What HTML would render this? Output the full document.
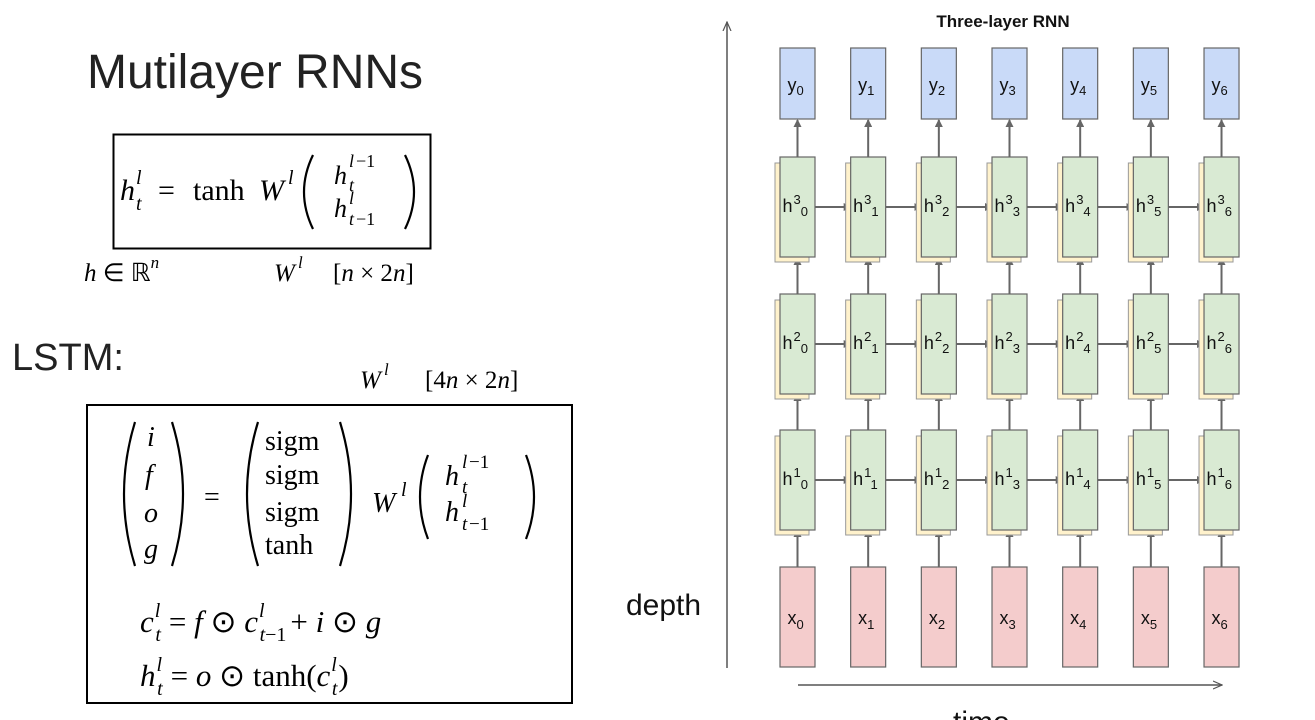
<!DOCTYPE html>
<html><head><meta charset="utf-8"><style>
html,body{margin:0;padding:0;background:#fff;}
svg{display:block;}
.m{font-family:"Liberation Serif",serif;}
.i{font-style:italic;}
.s{font-family:"Liberation Sans",sans-serif;}
</style></head><body>
<svg width="1315" height="720" viewBox="0 0 1315 720" xmlns="http://www.w3.org/2000/svg">
<defs>
<marker id="a" markerWidth="8" markerHeight="8" refX="7" refY="4" orient="auto" markerUnits="userSpaceOnUse">
<path d="M0,0 L8,4 L0,8 z" fill="#666"/></marker>
<marker id="b" markerWidth="10" markerHeight="10" refX="9" refY="5" orient="auto" markerUnits="userSpaceOnUse">
<path d="M0,1 L9,5 L0,9" fill="none" stroke="#555" stroke-width="1.2"/></marker>
</defs>

<text x="87" y="88" class="s" font-size="48" fill="#222">Mutilayer RNNs</text>
<rect x="113.5" y="134.5" width="317" height="114" fill="none" stroke="#000" stroke-width="2"/>
<g class="m" font-size="30" fill="#000">
<text x="120" y="200" class="i">h</text>
<text x="136" y="184" class="i" font-size="20">l</text>
<text x="136" y="210" class="i" font-size="20">t</text>
<text x="158" y="200">=</text>
<text x="193" y="200">tanh</text>
<text x="259" y="200" class="i">W</text>
<text x="288" y="184" class="i" font-size="20">l</text>
<text x="334" y="184" class="i" font-size="26">h</text>
<text x="349" y="167" class="i" font-size="18">l</text><text x="356" y="167" font-size="18">−1</text>
<text x="349" y="191" class="i" font-size="18">t</text>
<text x="334" y="217" class="i" font-size="26">h</text>
<text x="349" y="204" class="i" font-size="18">l</text>
<text x="349" y="225" class="i" font-size="18">t</text><text x="356" y="225" font-size="18">−1</text>
</g>
<path d="M313,155 Q295,192 313,229" fill="none" stroke="#000" stroke-width="2.2"/>
<path d="M405,155 Q423,192 405,229" fill="none" stroke="#000" stroke-width="2.2"/>
<g class="m" font-size="25" fill="#000">
<text x="84" y="281"><tspan class="i">h</tspan> ∈ ℝ<tspan class="i" font-size="17" dy="-13">n</tspan></text>
<text x="274" y="281" class="i">W</text><text x="298" y="268" class="i" font-size="17">l</text>
<text x="333" y="281">[<tspan class="i">n</tspan> × 2<tspan class="i">n</tspan>]</text>
<text x="360" y="388" class="i">W</text><text x="384" y="375" class="i" font-size="17">l</text>
<text x="425" y="388">[4<tspan class="i">n</tspan> × 2<tspan class="i">n</tspan>]</text>
</g>
<text x="12" y="370" class="s" font-size="38" fill="#222">LSTM:</text>
<rect x="87" y="405" width="485" height="298" fill="none" stroke="#000" stroke-width="2"/>
<g class="m" font-size="28" fill="#000">
<text x="147" y="446" class="i">i</text>
<text x="145" y="484" class="i">f</text>
<text x="144" y="522" class="i">o</text>
<text x="144" y="558" class="i">g</text>
<text x="204" y="506">=</text>
<text x="265" y="450">sigm</text>
<text x="265" y="484">sigm</text>
<text x="265" y="521">sigm</text>
<text x="265" y="554">tanh</text>
<text x="372" y="512" class="i">W</text><text x="401" y="496" class="i" font-size="20">l</text>
<text x="445" y="485" class="i">h</text>
<text x="462" y="468" class="i" font-size="19">l</text><text x="469" y="468" font-size="19">−1</text>
<text x="462" y="493" class="i" font-size="19">t</text>
<text x="445" y="521" class="i">h</text>
<text x="462" y="507" class="i" font-size="19">l</text>
<text x="462" y="530" class="i" font-size="19">t</text><text x="469" y="530" font-size="19">−1</text>
</g>
<g class="m" font-size="31" fill="#000">
<text x="140" y="632"><tspan class="i">c</tspan><tspan class="i" font-size="20" dy="-15" dx="1">l</tspan><tspan class="i" font-size="20" dx="-5" dy="24">t</tspan><tspan dy="-9" dx="8">= </tspan><tspan class="i">f</tspan><tspan> ⊙ </tspan><tspan class="i">c</tspan><tspan class="i" font-size="20" dy="-15" dx="1">l</tspan><tspan class="i" font-size="20" dx="-5" dy="24">t</tspan><tspan font-size="20">−1</tspan><tspan dy="-9" dx="4">+ </tspan><tspan class="i">i</tspan><tspan> ⊙ </tspan><tspan class="i">g</tspan></text>
<text x="140" y="686"><tspan class="i">h</tspan><tspan class="i" font-size="20" dy="-15" dx="1">l</tspan><tspan class="i" font-size="20" dx="-5" dy="24">t</tspan><tspan dy="-9" dx="8">= </tspan><tspan class="i">o</tspan><tspan> ⊙ tanh(</tspan><tspan class="i">c</tspan><tspan class="i" font-size="20" dy="-15" dx="1">l</tspan><tspan class="i" font-size="20" dx="-5" dy="24">t</tspan><tspan dy="-9" dx="1">)</tspan></text>
</g>
<g fill="none" stroke="#000" stroke-width="2.2">
<path d="M135,422 Q113,494 135,566"/><path d="M172,422 Q194,494 172,566"/>
<path d="M258,422 Q236,494 258,566"/><path d="M340,422 Q362,494 340,566"/>
<path d="M428,455 Q412,497 428,539"/><path d="M526,455 Q542,497 526,539"/>
</g>

<text x="1003" y="27" class="s" font-size="17" font-weight="bold" text-anchor="middle" fill="#111">Three-layer RNN</text>
<line x1="727" y1="668" x2="727" y2="22" stroke="#555" stroke-width="1.5" marker-end="url(#b)"/>
<line x1="798" y1="685" x2="1222" y2="685" stroke="#555" stroke-width="1.5" marker-end="url(#b)"/>
<text x="626" y="615" class="s" font-size="30" fill="#111">depth</text>
<text x="953" y="732" class="s" font-size="30" fill="#111">time</text>

<g id="cols" class="s" font-size="18" fill="#111"></g>
</svg>
<script>
(function(){
var g=document.getElementById('cols'),h='';
var rows=[157,294,430];
for(var i=0;i<7;i++){
 var x=780+70.67*i,cx=x+17.5;
 h+='<line x1="'+cx+'" y1="567" x2="'+cx+'" y2="530" stroke="#666" stroke-width="2" marker-end="url(#a)"/>';
 h+='<line x1="'+cx+'" y1="430" x2="'+cx+'" y2="394" stroke="#666" stroke-width="2" marker-end="url(#a)"/>';
 h+='<line x1="'+cx+'" y1="294" x2="'+cx+'" y2="258" stroke="#666" stroke-width="2" marker-end="url(#a)"/>';
 h+='<line x1="'+cx+'" y1="157" x2="'+cx+'" y2="120" stroke="#666" stroke-width="2" marker-end="url(#a)"/>';
 h+='<rect x="'+x+'" y="48" width="35" height="71" fill="#c9daf8" stroke="#666" stroke-width="1.2"/>';
 h+='<text x="'+(cx-10)+'" y="91">y<tspan font-size="13" dy="4">'+i+'</tspan></text>';
 h+='<rect x="'+x+'" y="567" width="35" height="100" fill="#f4cccc" stroke="#666" stroke-width="1.2"/>';
 h+='<text x="'+(cx-10)+'" y="624">x<tspan font-size="13" dy="5">'+i+'</tspan></text>';
 for(var r=0;r<3;r++){
  var y=rows[r],L=3-r;
  h+='<rect x="'+(x-5)+'" y="'+(y+6)+'" width="34" height="99" fill="#fff2cc" stroke="#999" stroke-width="1"/>';
  h+='<rect x="'+x+'" y="'+y+'" width="35" height="100" fill="#d9ead3" stroke="#666" stroke-width="1.2"/>';
  h+='<text x="'+(cx-15)+'" y="'+(y+55)+'">h<tspan font-size="13" dy="-8" dx="1">'+L+'</tspan><tspan font-size="13" dy="12">'+i+'</tspan></text>';
  if(i<6) h+='<line x1="'+(x+35)+'" y1="'+(y+50)+'" x2="'+(x+70.67)+'" y2="'+(y+50)+'" stroke="#666" stroke-width="2" marker-end="url(#a)"/>';
 }
}
g.innerHTML=h;
})();
</script>
</body></html>
